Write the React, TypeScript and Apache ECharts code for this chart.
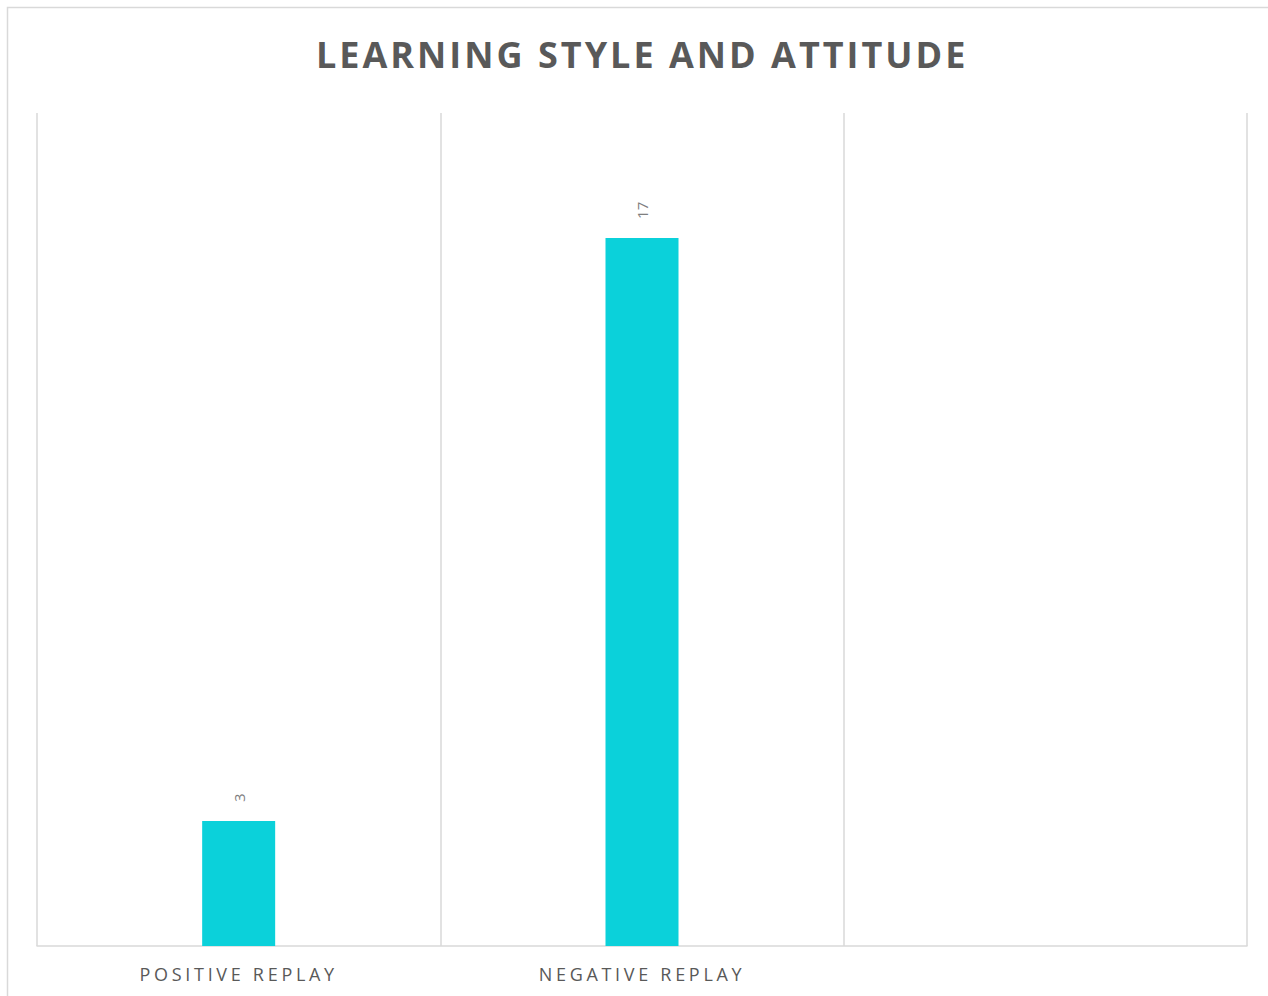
import React, { useEffect, useRef } from "react";
import * as echarts from "echarts";

const categories = ["POSITIVE REPLAY", "NEGATIVE REPLAY", ""];
const values = [3, 17, null];
const titleText = "LEARNING STYLE AND ATTITUDE";

export default function App() {
  const ref = useRef<HTMLDivElement>(null);
  useEffect(() => {
    if (!ref.current) return;
    const chart = echarts.init(ref.current, undefined, { renderer: "svg" });
    chart.setOption({
      animation: false,
      backgroundColor: "#ffffff",
      title: {
        text: titleText,
        left: 311,
        top: 31,
        textStyle: {
          fontFamily: "Open Sans",
          fontWeight: "bold",
          fontSize: 36,
          color: "#595959",
        },
      },
      graphic: [
        {
          type: "rect",
          shape: { x: 7.5, y: 7.5, width: 1300, height: 1100 },
          style: { fill: "none", stroke: "#d9d9d9", lineWidth: 1.5 },
          silent: true,
          z: -1,
        },
      ],
      grid: { left: 37, right: 21, top: 113, bottom: 50 },
      xAxis: {
        type: "category",
        data: categories,
        axisLine: { show: true, lineStyle: { color: "#d9d9d9", width: 1.5 } },
        axisTick: { show: false },
        splitLine: { show: true, lineStyle: { color: "#d9d9d9", width: 1.5 } },
        axisLabel: {
          fontFamily: "Open Sans",
          fontSize: 18,
          color: "#595959",
          margin: 19,
        },
      },
      yAxis: {
        type: "value",
        min: 0,
        max: 20,
        show: false,
        splitLine: { show: false },
      },
      series: [
        {
          type: "bar",
          data: values,
          barWidth: 73,
          itemStyle: { color: "#0bd1da" },
          label: {
            show: true,
            position: "top",
            distance: 19,
            rotate: 90,
            align: "left",
            verticalAlign: "middle",
            fontFamily: "Open Sans",
            fontSize: 15,
            color: "#7f7f7f",
          },
        },
      ],
    });
    return () => chart.dispose();
  }, []);
  return (
    <>
      <style>{`
        #chart text { letter-spacing: 3px; }
        #chart text[style*="18px"] { letter-spacing: 3.7px; }
        #chart text[style*="15px"] { letter-spacing: 0px; }
      `}</style>
      <div
        id="chart"
        ref={ref}
        style={{ position: "fixed", left: 0, top: 0, width: 1268, height: 996 }}
      />
    </>
  );
}
